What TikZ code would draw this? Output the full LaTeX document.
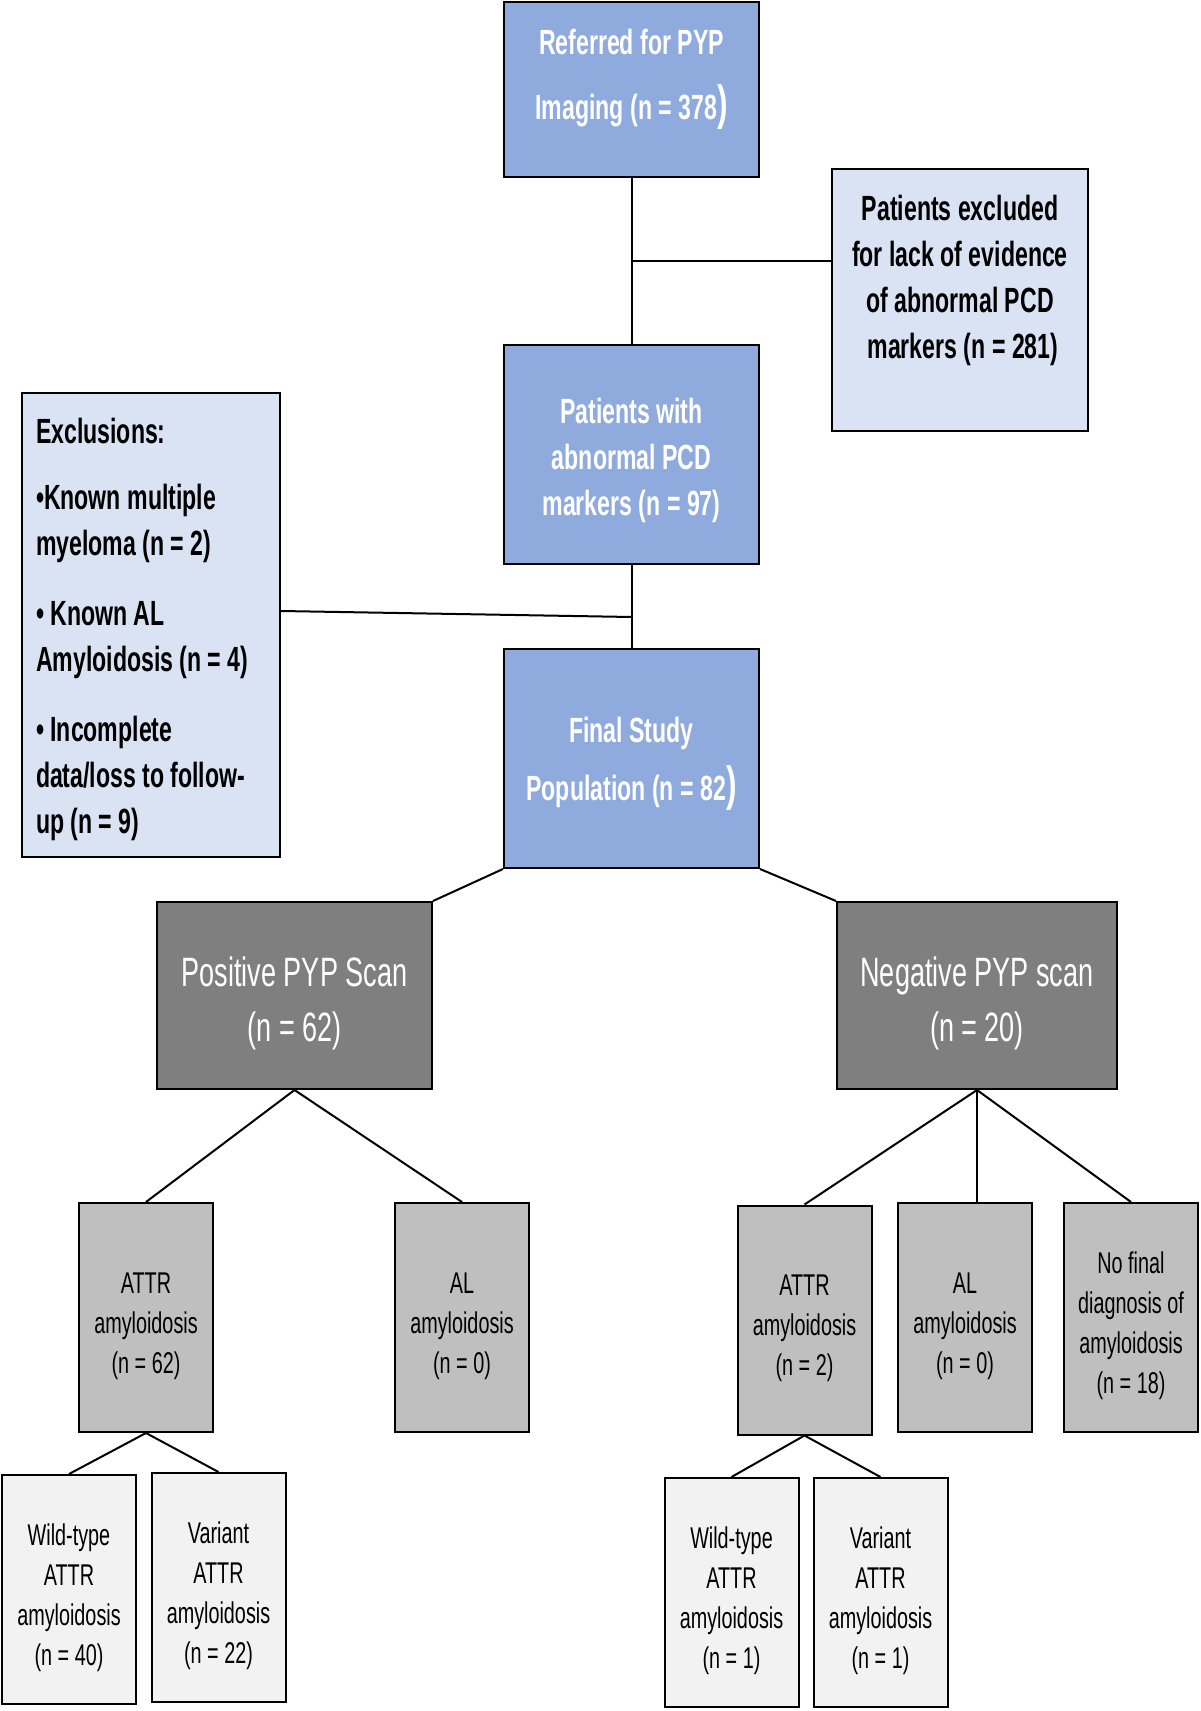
\documentclass[tikz,border=0pt]{standalone}
\usepackage{fontspec}
\setmainfont[FakeStretch=0.66]{Liberation Sans}
\usepackage{tikz}
\usetikzlibrary{positioning,calc}
\definecolor{cBlue}{HTML}{8FAADC}
\definecolor{cPale}{HTML}{DAE3F3}
\definecolor{cDark}{HTML}{7F7F7F}
\definecolor{cMid}{HTML}{BFBFBF}
\definecolor{cLite}{HTML}{F2F2F2}
\tikzset{
  blk/.style={draw=black, line width=1pt, align=center, inner sep=3pt},
  bluebox/.style={blk, fill=cBlue, text=white, minimum width=127.5pt,
                  font=\bfseries\fontsize{17.5}{23}\selectfont},
  palebox/.style={blk, fill=cPale, text=black,
                  font=\bfseries\fontsize{17.5}{23}\selectfont},
  darkbox/.style={blk, fill=cDark, text=white, minimum height=93.5pt,
                  font=\fontsize{20.5}{27.5}\selectfont},
  midbox/.style={blk, fill=cMid, text=black, minimum width=67pt, minimum height=114.5pt,
                 font=\fontsize{15}{20}\selectfont},
  litebox/.style={blk, fill=cLite, text=black, minimum width=67pt, minimum height=114.5pt,
                  font=\fontsize{15}{20}\selectfont},
  ln/.style={line width=1pt},
}
\newcommand{\bigpar}{{\fontsize{24}{24}\selectfont )}}
\newcommand{\lft}[1]{\rule{0pt}{#1}}

\begin{document}
\begin{tikzpicture}[x=0.5pt, y=-0.5pt]
  \useasboundingbox (0,0) rectangle (1200,1711);
  % upper chain
  \node[bluebox, minimum height=87.5pt, font=\bfseries\fontsize{17.5}{32.5}\selectfont] (ref) at (631.5,89.5)
    {Referred for PYP\\Imaging (n = 378\bigpar\\[-17pt]};
  \node[palebox, minimum width=128pt, minimum height=131pt] (excl) at (960,300)
    {Patients excluded\\for lack of evidence\\of abnormal PCD\\ \,markers (n = 281)\\[0pt]};
  \node[bluebox, minimum height=109.5pt] (abn) at (631.5,454.5)
    {\lft{18.3pt}Patients with\\abnormal PCD\\markers (n = 97)};
  \node[palebox, minimum width=129pt, minimum height=232pt, align=flush left, text width=115pt] (exc) at (151,625)
    {\lft{16.7pt}Exclusions:\\[10pt]
     •Known multiple\\myeloma (n = 2)\\[12pt]
     • Known AL\\Amyloidosis (n = 4)\\[12pt]
     • Incomplete\\data/loss to follow-\\up (n = 9)};
  \node[bluebox, minimum height=109.5pt, font=\bfseries\fontsize{17.5}{29}\selectfont] (fin) at (631.5,758.5)
    {\lft{18.3pt}Final Study\\Population (n = 82\bigpar};
  \coordinate (j1) at (631.5,261);
  \coordinate (j2) at (631.5,617);
  \draw[ln] (ref.south) -- (abn.north);
  \draw[ln] (j1) -- (j1 -| excl.west);
  \draw[ln] (abn.south) -- (fin.north);
  \draw[ln] ([yshift=7pt]exc.east) -- (j2);
  % scan result
  \node[darkbox, minimum width=137.5pt] (pos) at (294.5,995.5) {\lft{22.3pt}Positive PYP Scan\\(n = 62)};
  \node[darkbox, minimum width=140pt] (neg) at (977,995.5) {\lft{22.3pt}Negative PYP scan\\(n = 20)};
  \draw[ln] (fin.south west) -- (pos.north east);
  \draw[ln] (fin.south east) -- (neg.north west);
  % diagnoses
  \node[midbox] (attrp) at (146,1317.5) {\lft{19pt}ATTR\\amyloidosis\\(n = 62)};
  \node[midbox] (alp) at (462,1317.5) {\lft{19pt}AL\\amyloidosis\\(n = 0)};
  \node[midbox] (attrn) at (804.5,1320) {\lft{19pt}ATTR\\amyloidosis\\(n = 2)};
  \node[midbox] (aln) at (965,1317.5) {\lft{19pt}AL\\amyloidosis\\(n = 0)};
  \node[midbox] (nof) at (1131,1317.5) {\lft{19pt}No final\\diagnosis of\\amyloidosis\\(n = 18)};
  \draw[ln] (pos.south) -- (attrp.north);
  \draw[ln] (pos.south) -- (alp.north);
  \draw[ln] (neg.south) -- (attrn.north);
  \draw[ln] (neg.south) -- (neg.south |- aln.north);
  \draw[ln] (neg.south) -- (nof.north);
  % subtypes
  \node[litebox] (wtp) at (69,1589.5) {\lft{19pt}Wild-type\\ATTR\\amyloidosis\\(n = 40)};
  \node[litebox] (varp) at (218.5,1587.5) {\lft{19pt}Variant\\ATTR\\amyloidosis\\(n = 22)};
  \node[litebox] (wtn) at (731.5,1592.5) {\lft{19pt}Wild-type\\ATTR\\amyloidosis\\(n = 1)};
  \node[litebox] (varn) at (880.5,1592.5) {\lft{19pt}Variant\\ATTR\\amyloidosis\\(n = 1)};
  \draw[ln] (attrp.south) -- (wtp.north);
  \draw[ln] (attrp.south) -- (varp.north);
  \draw[ln] (attrn.south) -- (wtn.north);
  \draw[ln] (attrn.south) -- (varn.north);
\end{tikzpicture}
\end{document}
